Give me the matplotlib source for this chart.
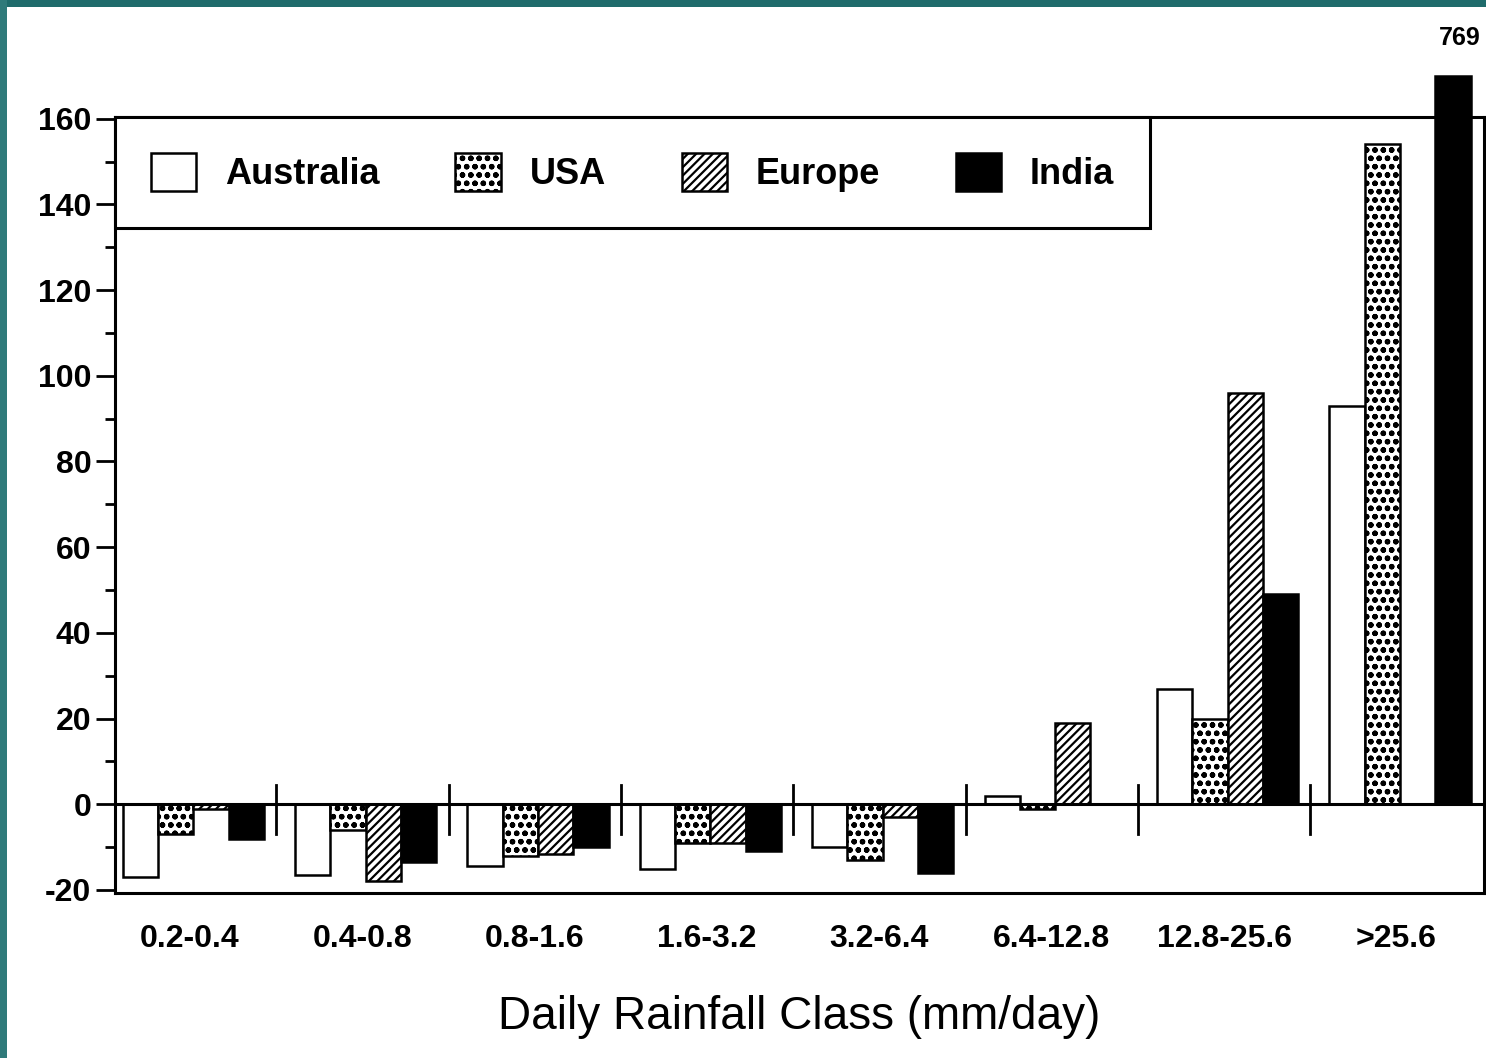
import matplotlib
matplotlib.use("Agg")
import matplotlib.pyplot as plt
import matplotlib.patches as mpatches
import numpy as np

plt.rcParams['font.family'] = ['Liberation Sans', 'DejaVu Sans']
plt.rcParams['hatch.linewidth'] = 1.6
plt.rcParams['axes.unicode_minus'] = False

categories = ["0.2-0.4", "0.4-0.8", "0.8-1.6", "1.6-3.2", "3.2-6.4",
              "6.4-12.8", "12.8-25.6", ">25.6"]
series = ["Australia", "USA", "Europe", "India"]
australia = [-17, -16.5, -14.5, -15, -10, 2, 27, 93]
usa = [-7, -6, -12, -9, -13, -1, 20, 154]
europe = [-1, -18, -11.5, -9, -3, 19, 96, 0]
india = [-8, -13.5, -10, -11, -16, 0, 49, 769]
values = [australia, usa, europe, india]

cap = 170  # displayed height for off-scale bar
faces = ["white", "white", "white", "black"]
hatches = [None, "oo", "////", None]

fig = plt.figure(figsize=(14.86, 10.58), dpi=100)
fig.patch.set_facecolor("white")
# slide border bands
fig.patches.append(mpatches.Rectangle((0, 1 - 7 / 1058), 1, 7 / 1058, transform=fig.transFigure,
                                      facecolor="#1f6b6b", edgecolor="none", zorder=0))
fig.patches.append(mpatches.Rectangle((0, 0), 7 / 1486, 1, transform=fig.transFigure,
                                      facecolor="#2f7a7a", edgecolor="none", zorder=0))

ax = fig.add_axes([0.0774, 0.156, 0.921, 0.7334])
x = np.arange(len(categories))
w = 0.205
handles = []
for k, (name, vals) in enumerate(zip(series, values)):
    shown = [min(v, cap) for v in vals]
    ax.bar(x + (k - 1.5) * w + 0.02, shown, width=w, facecolor=faces[k], edgecolor="black",
           linewidth=1.8, hatch=hatches[k], zorder=3, clip_on=False)
    handles.append(mpatches.Patch(facecolor=faces[k], edgecolor="black", linewidth=1.8,
                                  hatch=hatches[k], label=name))
    for xi, v in zip(x, vals):
        if v > cap:
            ax.text(xi + (k - 1.5) * w + 0.06, cap + 6, str(v), ha="center", va="bottom",
                    fontsize=18, fontweight="bold")

ax.axhline(0, color="black", linewidth=2.2, zorder=4)
for b in x[:-1] + 0.5:
    ax.plot([b, b], [-7, 4.5], color="black", linewidth=2, zorder=4)

ax.set_xlim(-0.435, 7.506)
ax.set_ylim(-20.7, 160.4)
ax.set_yticks(np.arange(-20, 161, 20))
ax.set_yticks(np.arange(-10, 160, 20), minor=True)
ax.tick_params(axis="y", which="major", length=14, width=2, labelsize=23, pad=3)
ax.tick_params(axis="y", which="minor", length=7, width=2)
for lab in ax.get_yticklabels():
    lab.set_fontweight("bold")
ax.set_xticks(x)
ax.set_xticklabels(categories, fontsize=23, fontweight="bold")
ax.tick_params(axis="x", length=0, pad=22)
ax.set_xlabel("Daily Rainfall Class (mm/day)", fontsize=33, labelpad=30)
for s in ax.spines.values():
    s.set_linewidth(2.2)

leg = ax.legend(handles=handles, loc="upper left", ncol=4, frameon=True, fancybox=False,
                edgecolor="black", framealpha=1, prop={"size": 26, "weight": "bold"},
                handlelength=1.25, handleheight=1.25,
                borderaxespad=0, columnspacing=2.1, handletextpad=0.8, borderpad=1.0)
leg.get_frame().set_linewidth(2.2)
leg.set_zorder(5)

fig.savefig("out.png", dpi=100, facecolor="white")
